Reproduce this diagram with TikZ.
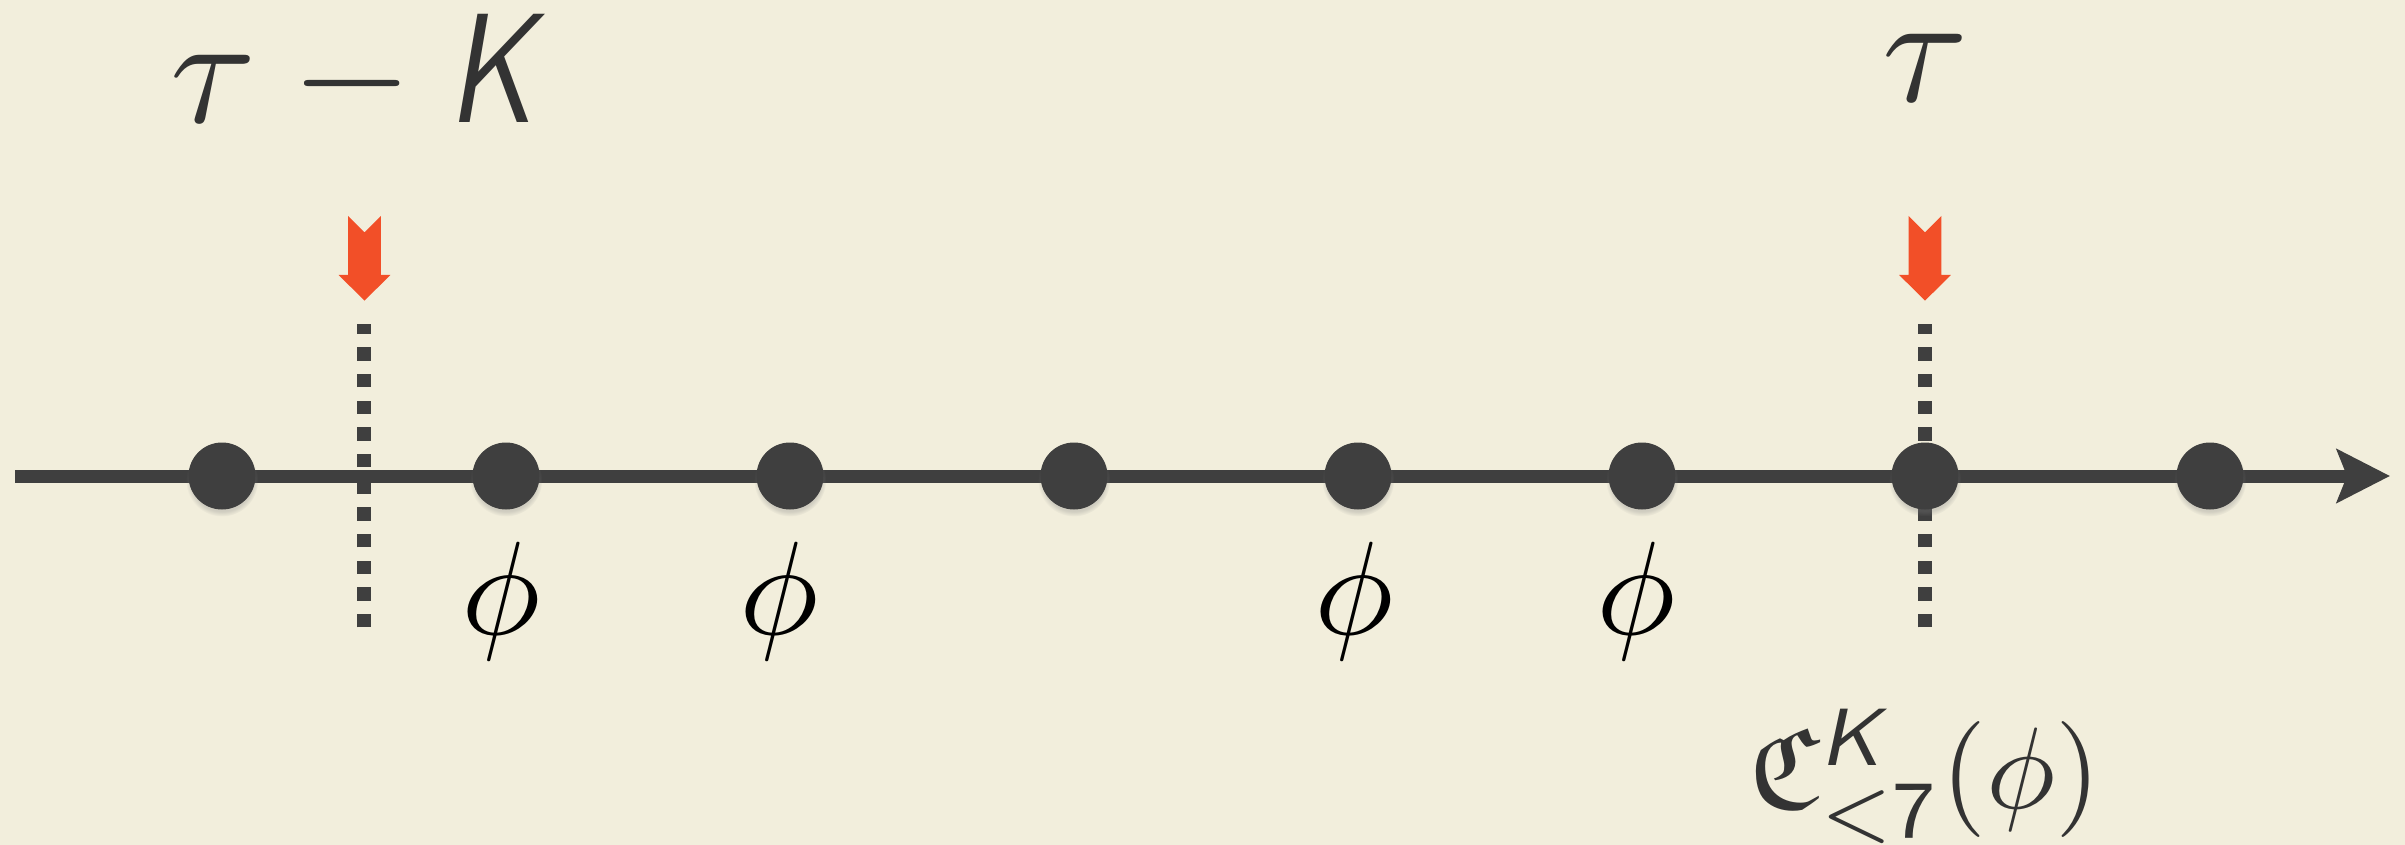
\documentclass[tikz,border=0pt]{standalone}
\usepackage{graphicx}
\usepackage{amsmath}
\usepackage{amssymb}
\usetikzlibrary{arrows.meta,shadows,fadings}
\definecolor{bg}{HTML}{F2EEDC}
\definecolor{ink}{HTML}{3F3F3F}
\definecolor{txt}{HTML}{333333}
\definecolor{marker}{HTML}{F24F28}
\newcommand{\sfK}{\scalebox{0.8}[1]{\textsf{\itshape K}}}
\begin{document}
\begin{tikzpicture}[x=0.5pt,y=-0.5pt,
  dot/.style={circle,fill=ink,inner sep=0pt,minimum size=33.5pt,
    circular drop shadow={shadow xshift=0pt,shadow yshift=-2pt,shadow scale=1.08,opacity=0.3}},
  axisline/.style={draw=ink,line width=6.5pt,-{Stealth[length=26.5pt,width=26.5pt,inset=5pt]}},
  guide/.style={draw=ink,line width=6.67pt,dash pattern=on 6.67pt off 6.67pt},
  biglab/.style={inner sep=0pt,anchor=base,text=txt},
  philab/.style={inner sep=0pt,anchor=base,text=black},
  setlab/.style={inner sep=0pt,anchor=base,text=txt},
  downarrow/.pic={\fill[marker] (-16.3,0)--(0,16.3)--(16.3,0)--(16.3,59)--(25.8,59)--(0,84.7)--(-25.8,59)--(-16.3,59)--cycle;}
]
\fill[bg] (0,0) rectangle (2405,845);
\useasboundingbox (0,0) rectangle (2405,845);

% coordinates
\coordinate (start) at (15,476);
\coordinate (end) at (2390,476);
\coordinate (g1b) at (364,627.3);
\coordinate (g1t) at (364,324);
\coordinate (g2b) at (1925,627.3);
\coordinate (g2t) at (1925,324);

% guides
\draw[guide] (g1b) -- (g1t);
\draw[guide] (g2b) -- (g2t);

% axis
\draw[axisline] (start) -- (end);

% dots
\foreach \i/\x in {1/222,2/506,3/790,4/1074,5/1358,6/1642,7/1925,8/2210}
  \node[dot] (d\i) at (\x,476) {};

% red arrows
\pic at (364.5,216) {downarrow};
\pic at (1925,216) {downarrow};

% labels
\node[biglab] (tk) at (358,123) {\scalebox{7.8}{$\tau - \sfK$}};
\node[biglab] (t) at (1925,102) {\scalebox{7.8}{$\tau$}};
\node[philab] (p2) at (501,634) {\scalebox{6.65}{$\phi$}};
\node[philab] (p3) at (779,634) {\scalebox{6.65}{$\phi$}};
\node[philab] (p5) at (1354,634) {\scalebox{6.65}{$\phi$}};
\node[philab] (p6) at (1636,634) {\scalebox{6.65}{$\phi$}};
\node[setlab] (c) at (1925,808) {\scalebox{5.8}{$\mathfrak{C}^{\textsf{\itshape K}}_{<\mathsf{7}}(\phi)$}};
\end{tikzpicture}
\end{document}
